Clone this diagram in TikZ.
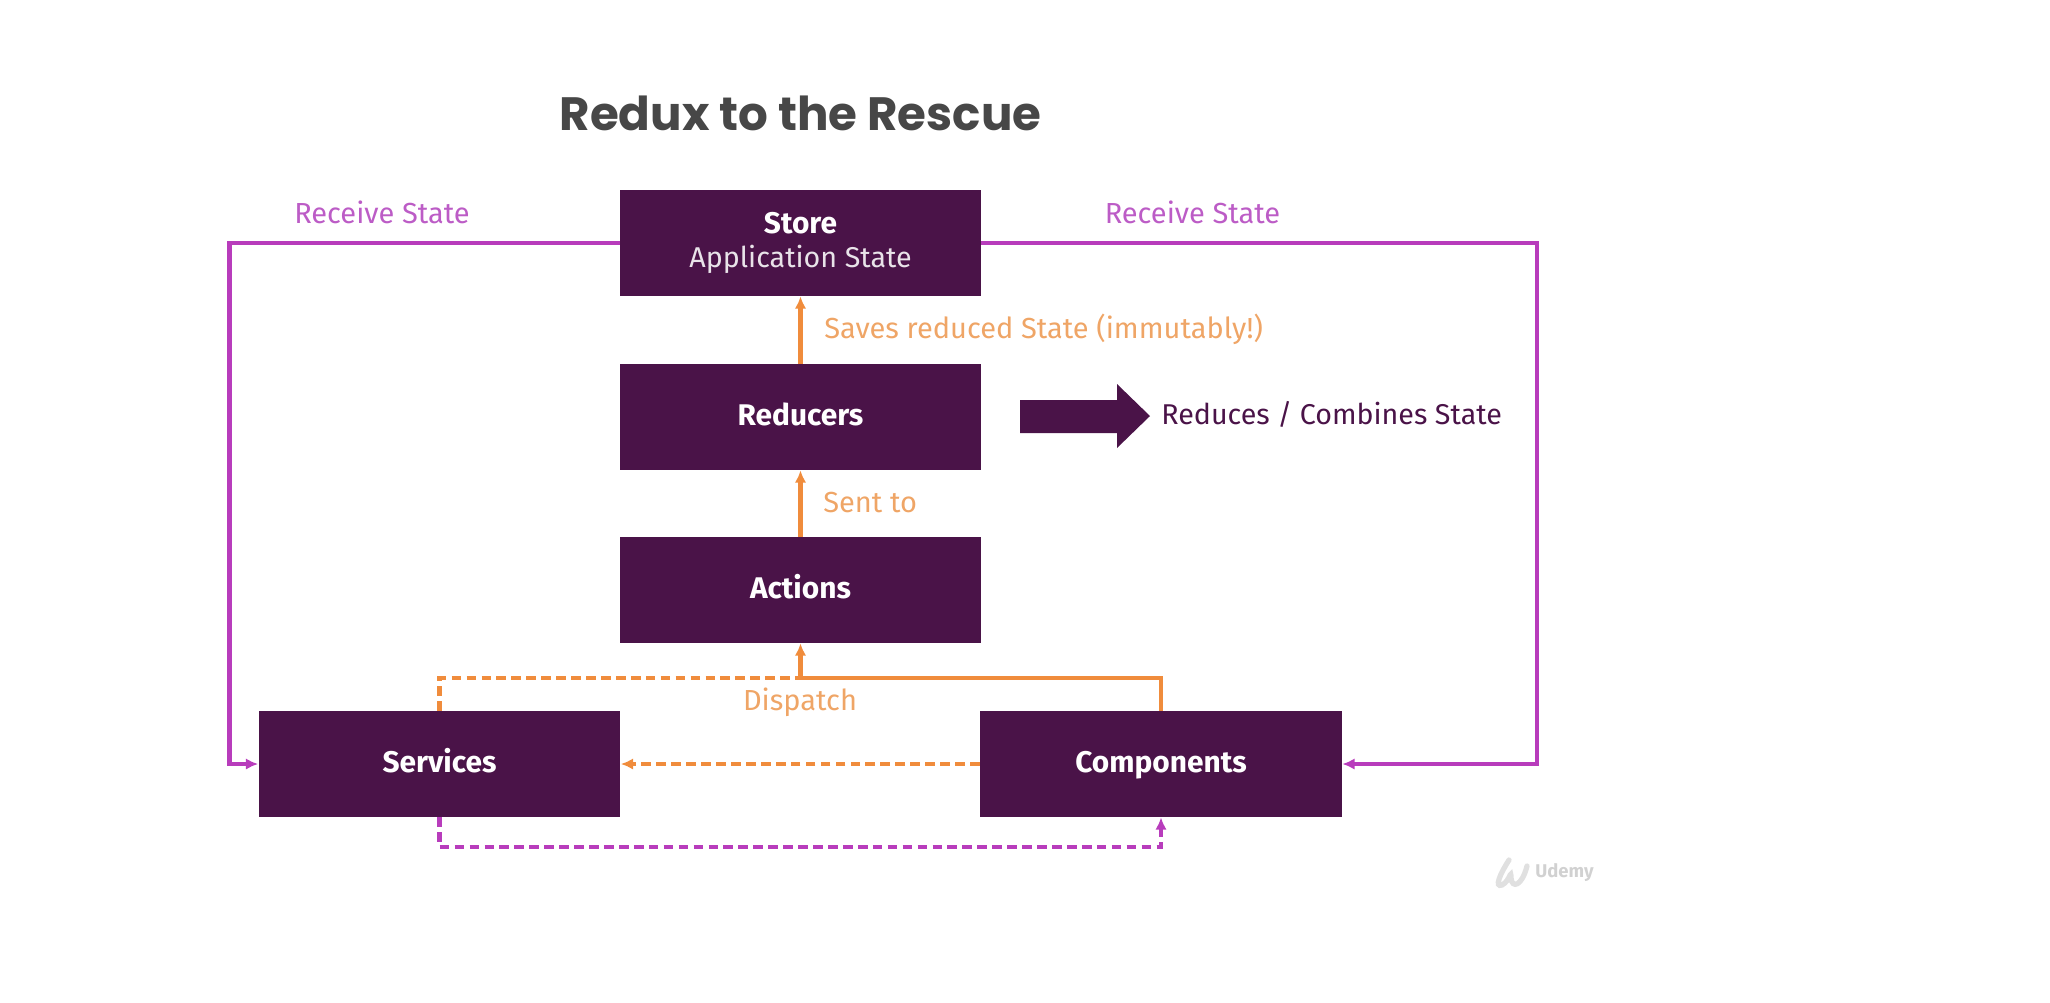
\documentclass[tikz,border=0pt]{standalone}
\usepackage{fontspec}
\setmainfont{Fira Sans}
\newfontfamily\titlefont{Poppins}
\usetikzlibrary{arrows.meta}
\definecolor{boxpurple}{HTML}{4A1348}
\definecolor{linemagenta}{HTML}{B83CBC}
\definecolor{textmagenta}{HTML}{BC5CC6}
\definecolor{lineorange}{HTML}{F08C3C}
\definecolor{textorange}{HTML}{EFA566}
\tikzset{>={Latex[length=7pt,width=6.5pt]}}
\tikzset{box/.style={fill=boxpurple, text=white, minimum width=7.22cm, minimum height=2.12cm, inner sep=0pt, font=\fontsize{17}{20}\selectfont\bfseries, align=center}}
\tikzset{oneline/.style={text height=12pt, text depth=2.9pt}}
\tikzset{orangeline/.style={lineorange, line width=2.3pt, ->}}
\tikzset{magentaline/.style={linemagenta, line width=2.3pt, ->}}
\tikzset{dashline/.style={dash pattern=on 5.5pt off 3pt}}
\tikzset{orangelabel/.style={textorange, inner sep=0pt, font=\fontsize{16.5}{20}\selectfont}}
\tikzset{magentalabel/.style={textmagenta, inner sep=0pt, font=\fontsize{16.5}{20}\selectfont}}
\begin{document}
\begin{tikzpicture}[x=0.02cm, y=-0.02cm, line join=miter]
	\useasboundingbox (0,0) rectangle (2050,1002);

	% Title
	\node[text=black!72, inner sep=0pt, font=\fontsize{26.6}{32}\titlefont\bfseries] (title) at (800.5,113) {Redux to the Rescue};

	% Boxes
	\node[box] (store) at (800.5,243) {Store\\[-0.5pt]{\fontsize{16.3}{20}\selectfont\mdseries\color{white!88!boxpurple}Application State}};
	\node[box, oneline] (reducers) at (800.5,417) {Reducers};
	\node[box, oneline] (actions) at (800.5,590) {Actions};
	\node[box, oneline, minimum width=7.24cm] (services) at (439.5,764) {Services};
	\node[box, oneline, minimum width=7.24cm] (components) at (1161,764) {Components};

	% Corners of the Lines
	\coordinate (leftturn) at (229.5,243);
	\coordinate (rightturn) at (1537,243);
	\coordinate (joint) at (800.5,678);
	\coordinate (lowleft) at (439.5,847);
	\coordinate (lowright) at (1161,847);

	% Receive State
	\draw[magentaline] (store.west) -- (leftturn) |- (services.west);
	\draw[magentaline] (store.east) -- (rightturn) |- (components.east);
	\node[magentalabel] (recvleft) at (382,212) {Receive State};
	\node[magentalabel] (recvright) at (1192.5,212) {Receive State};

	% Orange Arrows
	\draw[orangeline] (reducers.north) -- (store.south);
	\draw[orangeline] (actions.north) -- (reducers.south);
	\draw[orangeline] (components.north) |- (joint) -- (actions.south);
	\draw[orangeline, -, dashline] (services.north) |- (joint);
	\draw[orangeline, dashline] (components.west) -- (services.east);

	% Dashed Line below
	\draw[magentaline, dashline] (services.south) -- (lowleft) -- (lowright) -- (components.south);

	% Labels
	\node[orangelabel, anchor=west] (saves) at (824,329) {Saves reduced State (immutably!)};
	\node[orangelabel, anchor=west] (sentto) at (823,503) {Sent to};
	\node[orangelabel] (dispatch) at (800,702) {Dispatch};

	% Big Arrow
	\fill[boxpurple] (1020,400) -- (1117,400) -- (1117,384) -- (1150,416) -- (1117,448) -- (1117,433) -- (1020,433) -- cycle;
	\node[text=boxpurple, inner sep=0pt, anchor=west, font=\fontsize{16.3}{20}\selectfont] (reduces) at (1161,414) {Reduces / Combines State};

	% Watermark
	\draw[black!12, line width=3pt, line cap=round] (1509,860) .. controls (1500,874) and (1494,888) .. (1502,885) .. controls (1510,881) and (1511,868) .. (1511,878) .. controls (1512,889) and (1522,886) .. (1527,866);
	\node[text=black!18, inner sep=0pt, anchor=west, font=\fontsize{10.5}{12}\selectfont\bfseries] (udemy) at (1535,873) {Udemy};
\end{tikzpicture}
\end{document}
